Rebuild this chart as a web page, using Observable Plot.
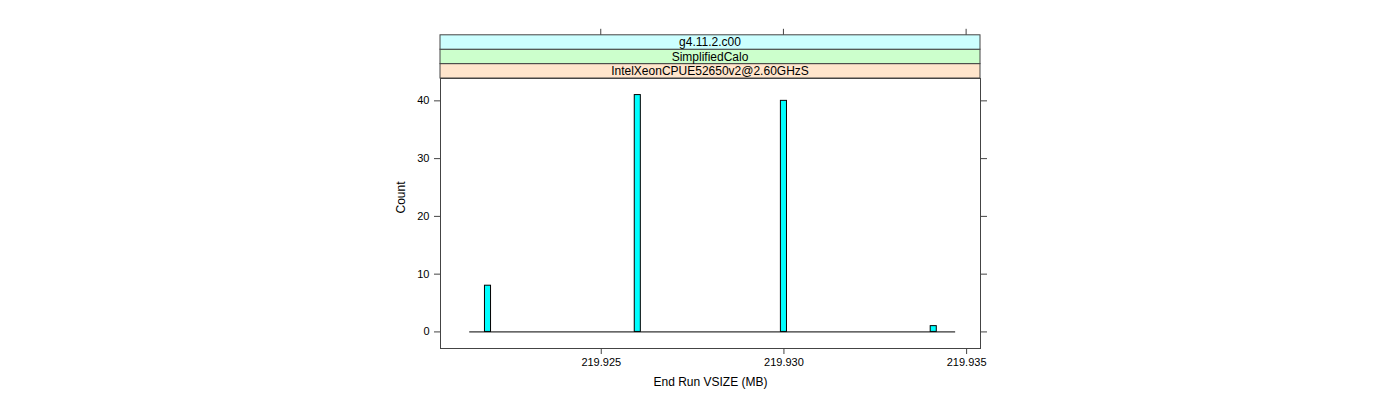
<!DOCTYPE html>
<html><head><meta charset="utf-8">
<script src="https://cdn.jsdelivr.net/npm/d3@7"></script>
<script src="https://cdn.jsdelivr.net/npm/@observablehq/plot@0.6"></script>
<style>body{margin:0;background:#fff}</style>
</head><body><div id="chart"></div>
<script>
// strip labels, bottom to top (lattice order)
const stripLabels = ["IntelXeonCPUE52650v2@2.60GHzS", "SimplifiedCalo", "g4.11.2.c00"];
const stripColors = ["#ffe5cc", "#ccffcc", "#ccffff"];
// histogram: bin centers (MB) and counts
const vsizeValues = [219.9219, 219.9260, 219.9300, 219.9341];
const counts = [8, 41, 40, 1];
// histogram breaks range and number of bins
const breaksRange = [219.9214, 219.9347];
const nBins = 80;
const xTicks = [219.925, 219.930, 219.935];
const yTicks = [0, 10, 20, 30, 40];
const xDomain = [219.9206, 219.93538];
const yDomain = [-2.87, 43.87];

const binWidth = (breaksRange[1] - breaksRange[0]) / nBins;
const bars = vsizeValues.map((v, i) => ({x1: v - binWidth / 2, x2: v + binWidth / 2, count: counts[i]}));
const lineColor = "#444";
const stripH = 14.4;

function strips(index, scales, values, dim) {
  const g = d3.create("svg:g");
  const x0 = dim.marginLeft, x1 = dim.width - dim.marginRight;
  stripLabels.forEach((lab, i) => {
    const yb = dim.marginTop - i * stripH;
    g.append("rect").attr("x", x0).attr("y", yb - stripH).attr("width", x1 - x0).attr("height", stripH)
      .attr("fill", stripColors[i]).attr("stroke", lineColor);
    g.append("text").attr("x", (x0 + x1) / 2).attr("y", yb - stripH / 2).attr("dy", "0.36em")
      .attr("text-anchor", "middle").attr("font-size", 12).attr("fill", "#000").text(lab);
  });
  const top = dim.marginTop - stripLabels.length * stripH;
  xTicks.forEach(t => {
    const px = scales.x(t);
    g.append("line").attr("x1", px).attr("x2", px).attr("y1", top).attr("y2", top - 6).attr("stroke", lineColor);
  });
  return g.node();
}

const chart = Plot.plot({
  width: 1400,
  height: 400,
  marginLeft: 440,
  marginRight: 420,
  marginTop: 78,
  marginBottom: 52,
  style: {fontFamily: "'Liberation Sans', Arial, sans-serif", fontSize: "11px", color: "#000", background: "#fff"},
  x: {domain: xDomain},
  y: {domain: yDomain},
  marks: [
    Plot.ruleY([0], {x1: breaksRange[0], x2: breaksRange[1], stroke: "#000"}),
    Plot.rectY(bars, {x1: "x1", x2: "x2", y1: 0, y2: "count", fill: "#00ffff", stroke: "#000"}),
    Plot.frame({stroke: lineColor}),
    Plot.axisX({ticks: xTicks, tickFormat: d => d.toFixed(3), tickSize: 6, tickPadding: 4, label: null, stroke: lineColor}),
    Plot.axisY({ticks: yTicks, tickSize: 6, tickPadding: 5, label: null, stroke: lineColor}),
    Plot.axisY({anchor: "right", ticks: yTicks, tickSize: 6, tickFormat: () => "", label: null, stroke: lineColor}),
    Plot.text(["End Run VSIZE (MB)"], {text: d => d, frameAnchor: "bottom", dy: 37, fontSize: 12}),
    Plot.text(["Count"], {text: d => d, frameAnchor: "left", rotate: -90, dx: -39, fontSize: 12}),
    strips
  ]
});
document.getElementById("chart").appendChild(chart);
</script>
</body></html>
